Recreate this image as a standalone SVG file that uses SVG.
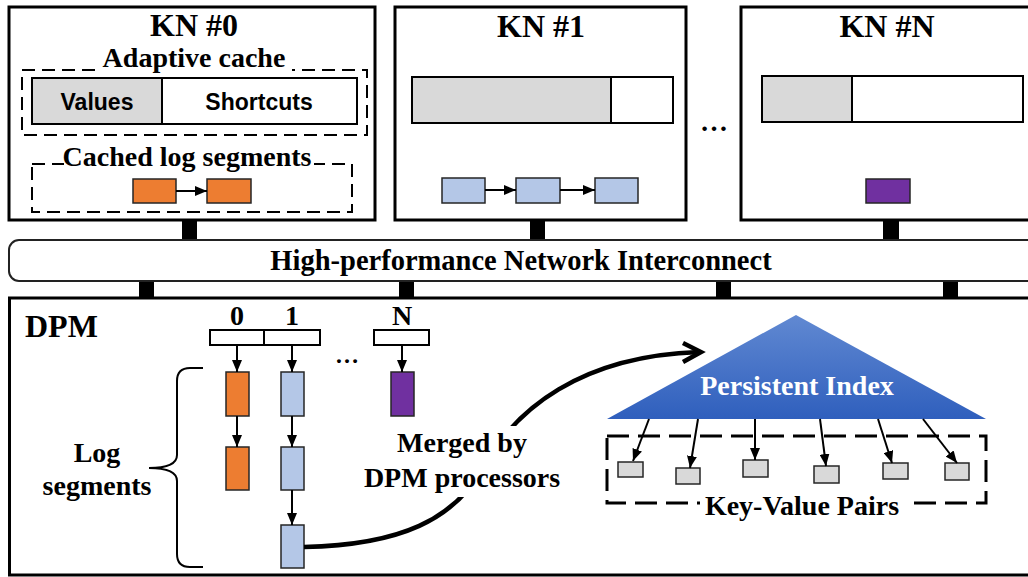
<svg xmlns="http://www.w3.org/2000/svg" width="1028" height="577" viewBox="0 0 1028 577">
  <style>
    .box { fill: #fff; stroke: #000; stroke-width: 3; }
    .bar { stroke: #000; stroke-width: 2; }
    .dash { fill: none; stroke: #000; stroke-width: 2; stroke-dasharray: 13 7; }
    .dash2 { fill: none; stroke: #000; stroke-width: 3; stroke-dasharray: 22 9; }
    .seg { stroke: #262626; stroke-width: 1.5; }
    .orange { fill: #ED7D31; }
    .blue { fill: #B4C7E7; }
    .purple { fill: #7030A0; }
    .grey { fill: #D9D9D9; }
    .white { fill: #fff; }
    .stub { fill: #000; }
    .t { font-family: "Liberation Serif", "Times New Roman", serif; font-weight: bold; fill: #000; text-anchor: middle; }
    .s { font-family: "Liberation Sans", Arial, sans-serif; font-weight: bold; fill: #000; text-anchor: middle; font-size: 23px; }
    .arr { stroke: #000; stroke-width: 2; fill: none; marker-end: url(#ah); }
    .merge { stroke: #000; stroke-width: 4.5; fill: none; }
  </style>
  <defs>
    <marker id="ah" markerUnits="userSpaceOnUse" markerWidth="12" markerHeight="10" refX="12" refY="5" orient="auto">
      <path d="M0,0 L12,5 L0,10 z" fill="#000"/>
    </marker>
    <linearGradient id="idxGrad" x1="0" y1="0" x2="0" y2="1">
      <stop offset="0" stop-color="#6189D2"/>
      <stop offset="1" stop-color="#2F5FBD"/>
    </linearGradient>
  </defs>

  <!-- Key node 0 -->
  <g id="kn0">
    <rect class="box" x="9" y="7" width="366" height="213"/>
    <text class="t" x="194" y="36" font-size="32">KN #0</text>
    <rect class="dash" x="22" y="70" width="345" height="65"/>
    <rect class="white" x="97" y="56" width="195" height="20"/>
    <text class="t" x="194" y="67" font-size="28">Adaptive cache</text>
    <rect class="grey bar" x="32" y="78" width="130" height="46"/>
    <rect class="white bar" x="162" y="78" width="195" height="46"/>
    <text class="s" x="97" y="110">Values</text>
    <text class="s" x="259" y="110">Shortcuts</text>
    <rect class="dash" x="32" y="164" width="320" height="48"/>
    <rect class="white" x="64" y="150" width="250" height="18"/>
    <text class="t" x="187" y="166" font-size="28">Cached log segments</text>
    <rect class="orange seg" x="133" y="179" width="43" height="24"/>
    <rect class="orange seg" x="207" y="179" width="44" height="24"/>
  </g>

  <!-- Key node 1 -->
  <g id="kn1">
    <rect class="box" x="395" y="7" width="291" height="213"/>
    <text class="t" x="541" y="37" font-size="32">KN #1</text>
    <rect class="grey bar" x="412" y="77" width="199" height="46"/>
    <rect class="white bar" x="611" y="77" width="62" height="46"/>
    <rect class="blue seg" x="442" y="178" width="43" height="25"/>
    <rect class="blue seg" x="516" y="178" width="44" height="25"/>
    <rect class="blue seg" x="595" y="178" width="43" height="25"/>
  </g>

  <text id="kn-ellipsis" class="t" x="714" y="131" font-size="28">…</text>

  <!-- Key node N -->
  <g id="knN">
    <rect class="box" x="741" y="7" width="400" height="213"/>
    <text class="t" x="887" y="37" font-size="32">KN #N</text>
    <rect class="grey bar" x="762" y="76" width="90" height="46"/>
    <rect class="white bar" x="852" y="76" width="171" height="46"/>
    <rect class="purple seg" x="866" y="179" width="44" height="24"/>
  </g>

  <!-- Interconnect with its attachment stubs -->
  <g id="network">
    <rect class="stub" x="182" y="220" width="15" height="20"/>
    <rect class="stub" x="530" y="220" width="15" height="20"/>
    <rect class="stub" x="883" y="220" width="16" height="20"/>
    <rect class="stub" x="139" y="281" width="15" height="18"/>
    <rect class="stub" x="399" y="281" width="15" height="18"/>
    <rect class="stub" x="716" y="281" width="15" height="18"/>
    <rect class="stub" x="943" y="281" width="15" height="18"/>
    <rect x="9" y="240" width="1040" height="41" rx="10" fill="#fff" stroke="#222" stroke-width="2"/>
    <text class="t" x="521" y="270" font-size="28.5">High-performance Network Interconnect</text>
  </g>

  <!-- Disaggregated persistent memory -->
  <g id="dpm">
    <rect class="box" x="9.5" y="298" width="1030" height="277"/>
    <text class="t" x="25" y="337" font-size="32" text-anchor="start" style="text-anchor:start">DPM</text>
  </g>

  <g id="log-heads">
    <rect class="white bar" x="210" y="330" width="54" height="15"/>
    <rect class="white bar" x="264" y="330" width="56" height="15"/>
    <rect class="white bar" x="374" y="330" width="55" height="15"/>
    <text class="t" x="237" y="325" font-size="28">0</text>
    <text class="t" x="292" y="325" font-size="28">1</text>
    <text class="t" x="402" y="325" font-size="28">N</text>
    <text class="t" x="347" y="363" font-size="24">…</text>
  </g>

  <g id="log-segments">
    <rect class="orange seg" x="226" y="372" width="23" height="44"/>
    <rect class="orange seg" x="226" y="447" width="23" height="43"/>
    <rect class="blue seg" x="281" y="372" width="23" height="44"/>
    <rect class="blue seg" x="281" y="447" width="23" height="43"/>
    <rect class="blue seg" x="281" y="525" width="23" height="43"/>
    <rect class="purple seg" x="391" y="372" width="23" height="44"/>
    <path d="M203,368 L190,368 Q177,368 177,381 L177,455 Q177,468 149,468 Q177,468 177,481 L177,554 Q177,567 190,567 L203,567" fill="none" stroke="#000" stroke-width="2"/>
    <text class="t" x="97" y="462" font-size="28">Log</text>
    <text class="t" x="97" y="495" font-size="28">segments</text>
  </g>

  <!-- Persistent index tree -->
  <g id="index">
    <polygon points="796,315 986,419 607,419" fill="url(#idxGrad)"/>
    <text class="t" x="797" y="395" font-size="28" style="fill:#fff">Persistent Index</text>
  </g>

  <g id="kv-pairs">
    <rect class="dash2" x="607" y="436" width="379" height="67"/>
    <rect class="white" x="700" y="496" width="205" height="16"/>
    <text class="t" x="802" y="515" font-size="28">Key-Value Pairs</text>
    <rect class="grey seg" x="618" y="462" width="25" height="15"/>
    <rect class="grey seg" x="676" y="468" width="24" height="16"/>
    <rect class="grey seg" x="743" y="460" width="25" height="17"/>
    <rect class="grey seg" x="814" y="466" width="25" height="17"/>
    <rect class="grey seg" x="883" y="463" width="25" height="16"/>
    <rect class="grey seg" x="945" y="463" width="24" height="17"/>
  </g>

  <!-- Connectors -->
  <g id="connectors">
    <line class="arr" x1="176" y1="191" x2="207" y2="191"/>
    <line class="arr" x1="485" y1="190" x2="516" y2="190"/>
    <line class="arr" x1="560" y1="190" x2="595" y2="190"/>
    <line class="arr" x1="237" y1="345" x2="237" y2="372"/>
    <line class="arr" x1="292" y1="345" x2="292" y2="372"/>
    <line class="arr" x1="402" y1="345" x2="402" y2="372"/>
    <line class="arr" x1="237" y1="416" x2="237" y2="447"/>
    <line class="arr" x1="292" y1="416" x2="292" y2="447"/>
    <line class="arr" x1="292" y1="490" x2="292" y2="525"/>
    <line class="arr" x1="649" y1="419" x2="633" y2="461"/>
    <line class="arr" x1="698" y1="419" x2="690" y2="468"/>
    <line class="arr" x1="755" y1="419" x2="755" y2="460"/>
    <line class="arr" x1="820" y1="419" x2="826" y2="466"/>
    <line class="arr" x1="878" y1="419" x2="892" y2="463"/>
    <line class="arr" x1="923" y1="419" x2="957" y2="463"/>
    <path class="merge" d="M304,547 C400,545 455,520 485,465 C515,410 580,356 699,352"/>
    <path class="merge" d="M683,343 L701,352 L683,362"/>
  </g>

  <!-- Label over the merge curve -->
  <g id="merge-label">
    <rect class="white" x="360" y="426" width="205" height="71"/>
    <text class="t" x="462" y="452" font-size="28">Merged by</text>
    <text class="t" x="462" y="487" font-size="28">DPM processors</text>
  </g>
</svg>
